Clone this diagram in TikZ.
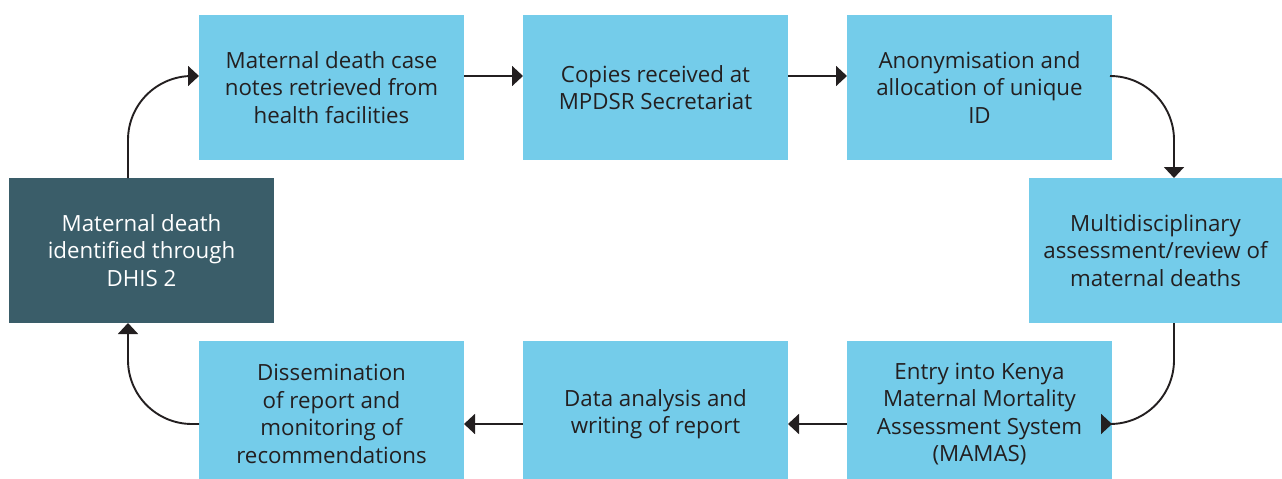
\documentclass[tikz,border=0pt]{standalone}
\usepackage{fontspec}
\setmainfont{Open Sans}
\usetikzlibrary{arrows.meta}
\definecolor{lblue}{HTML}{74CCEA}
\definecolor{dteal}{HTML}{3A5D69}
\definecolor{ink}{HTML}{231F20}
\begin{document}
\begin{tikzpicture}[x=1pt,y=-1pt,
  box/.style={fill=lblue, text=ink},
  txt/.style={align=center, text=ink, font=\fontsize{22.3}{27.4}\selectfont, inner sep=0pt},
  wtxt/.style={txt, text=white},
  conn/.style={draw=ink, line width=1.9pt, -{Triangle[length=11pt,width=20pt]}, rounded corners=64pt}]
\useasboundingbox (0,0) rectangle (1282,479);
% boxes
\fill[box] (199,15) rectangle (464,160);
\fill[box] (523,15) rectangle (788,160);
\fill[box] (847,15) rectangle (1112,160);
\fill[dteal] (9,178) rectangle (274,323);
\fill[box] (1029,178) rectangle (1282,323);
\fill[box] (199,341) rectangle (464,487);
\fill[box] (523,341) rectangle (788,487);
\fill[box] (847,341) rectangle (1112,487);
% texts
\node[txt] (t1) at (331.5,87.5) {Maternal death case\\notes retrieved from\\health facilities};
\node[txt] (t2) at (655.5,87.5) {Copies received at\\MPDSR Secretariat};
\node[txt] (t3) at (979.5,87.5) {Anonymisation and\\allocation of unique\\ID};
\node[wtxt] (t0) at (141.5,250.5) {Maternal death\\identified through\\DHIS 2};
\node[txt] (t4) at (1155.5,250.5) {Multidisciplinary\\assessment/review of\\maternal deaths};
\node[txt] (t5) at (979.5,414) {Entry into Kenya\\Maternal Mortality\\Assessment System\\(MAMAS)};
\node[txt] (t6) at (655.5,414) {Data analysis and\\writing of report};
\node[txt] (t7) at (331.5,414) {Dissemination\\of report and\\monitoring of\\recommendations};
% anchor coordinates
\coordinate (a0n) at (128,178);
\coordinate (a0s) at (128,323);
\coordinate (a1w) at (199,76);
\coordinate (a1e) at (464,76);
\coordinate (a2w) at (523,76);
\coordinate (a2e) at (788,76);
\coordinate (a3w) at (847,76);
\coordinate (a3e) at (1112,76);
\coordinate (a4n) at (1174,178);
\coordinate (a4s) at (1174,323);
\coordinate (a5e) at (1112,424);
\coordinate (a5w) at (847,424);
\coordinate (a6e) at (788,424);
\coordinate (a6w) at (523,424);
\coordinate (a7e) at (464,424);
\coordinate (a7w) at (199,424);
% connectors
\draw[conn] (a0n) |- (a1w);
\draw[conn] (a1e) -- (a2w);
\draw[conn] (a2e) -- (a3w);
\draw[conn] (a3e) -| (a4n);
\draw[conn] (a4s) |- (a5e);
\draw[conn] (a5w) -- (a6e);
\draw[conn] (a6w) -- (a7e);
\draw[conn] (a7w) -| (a0s);
\end{tikzpicture}
\end{document}
